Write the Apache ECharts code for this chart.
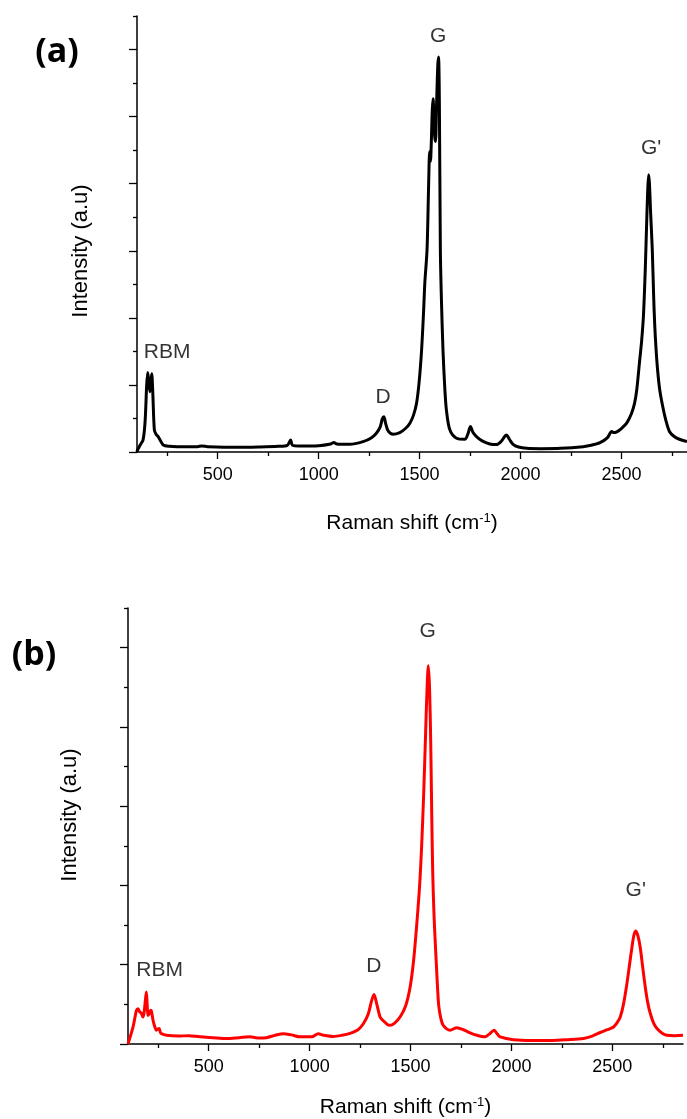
<!DOCTYPE html>
<html>
<head>
<meta charset="utf-8">
<script src="https://cdn.jsdelivr.net/npm/echarts@6/dist/echarts.min.js"></script>
<style>
html,body{margin:0;padding:0;background:#fff;}
#chart{width:687px;height:1119px;}
</style>
</head>
<body>
<div id="chart"></div>
<script>
// ---- Data (a): black spectrum ----
const topX = [100,103,115,130,140,148,153,158,164,168,173,178,186,195,205,215,230,260,300,400,420,450,600,700,800,845,861,870,900,1000,1060,1075,1090,1154,1220,1260,1286,1305,1315,1323,1332,1345,1369,1402,1430,1452,1470,1485,1498,1510,1520,1526,1537,1545,1550,1554,1558,1563,1567,1571,1575,1579,1584,1590,1594,1598,1603,1608,1616,1625,1633,1650,1683,1724,1740,1752,1765,1782,1810,1848,1881,1905,1930,1945,1963,1990,2030,2100,2200,2311,2350,2394,2430,2452,2462,2477,2500,2526,2550,2565,2576,2590,2600,2609,2618,2626,2631,2635,2639,2645,2653,2660,2665,2672,2680,2690,2705,2720,2738,2760,2787,2825];
const topY = [0.0,0.06,0.2,0.36,0.9,2.0,2.37,2.1,1.8,2.1,2.33,1.8,0.66,0.52,0.46,0.35,0.21,0.17,0.16,0.16,0.18,0.16,0.14,0.15,0.17,0.2,0.36,0.2,0.18,0.19,0.24,0.28,0.24,0.23,0.31,0.42,0.56,0.75,0.98,1.05,0.85,0.62,0.53,0.58,0.7,0.86,1.1,1.45,2.1,3.04,4.2,5.04,6.03,8.0,8.96,8.67,9.2,10.2,10.53,10.0,9.4,9.26,10.3,11.5,11.78,10.5,6.03,4.6,3.04,1.9,1.25,0.66,0.41,0.38,0.55,0.76,0.58,0.46,0.33,0.24,0.22,0.32,0.51,0.38,0.23,0.15,0.11,0.1,0.11,0.16,0.2,0.28,0.42,0.61,0.58,0.6,0.7,0.86,1.15,1.45,1.85,2.7,3.3,4.04,5.4,7.0,7.9,8.27,8.0,7.1,6.03,4.6,3.8,3.04,2.4,1.85,1.35,0.95,0.61,0.47,0.38,0.31];

// ---- Data (b): red spectrum ----
const botX = [100,125,142,150,158,166,174,180,186,191,195,199,207,212,216,224,232,241,248,254,260,266,290,350,400,456,520,588,650,704,750,786,830,869,910,952,1010,1043,1070,1117,1160,1200,1240,1266,1290,1305,1319,1333,1349,1362,1373,1385,1398,1420,1448,1475,1498,1515,1531,1545,1555,1565,1575,1582,1588,1594,1600,1605,1610,1616,1622,1628,1634,1640,1650,1662,1696,1729,1762,1795,1828,1869,1890,1914,1930,1944,2010,2100,2192,2280,2357,2400,2440,2475,2506,2525,2539,2555,2572,2585,2597,2607,2617,2628,2638,2650,2663,2675,2688,2705,2721,2745,2771,2810,2850];
const botY = [0.0,0.43,0.85,0.89,0.81,0.78,0.68,0.8,1.1,1.31,1.0,0.72,0.78,0.85,0.83,0.6,0.45,0.35,0.38,0.39,0.3,0.26,0.22,0.2,0.21,0.18,0.16,0.14,0.16,0.18,0.15,0.16,0.22,0.26,0.23,0.18,0.18,0.26,0.22,0.19,0.22,0.27,0.36,0.51,0.75,1.05,1.25,1.0,0.68,0.6,0.55,0.49,0.47,0.52,0.68,0.95,1.44,2.1,3.03,4.0,5.0,6.3,7.9,9.0,9.54,9.0,7.6,5.8,4.3,3.3,2.6,2.0,1.4,0.95,0.65,0.47,0.35,0.41,0.36,0.28,0.22,0.18,0.25,0.35,0.25,0.18,0.11,0.09,0.09,0.11,0.14,0.2,0.29,0.36,0.43,0.55,0.68,1.0,1.52,2.0,2.44,2.75,2.85,2.7,2.44,1.95,1.44,1.05,0.77,0.52,0.39,0.28,0.22,0.21,0.22];

// ---- Tick values ----
const xMajorTicks = [500,1000,1500,2000,2500];
const xMinorTicks = [250,750,1250,1750,2250,2750];
const topYMajor = [0,2,4,6,8,10,12];
const topYMinor = [1,3,5,7,9,11,13];
const botYMajor = [0,2,4,6,8,10];
const botYMinor = [1,3,5,7,9,11];

// ---- Peak annotations [label, x, y] ----
const topPeaks = [['RBM',249,2.99],['D',1319,1.64],['G',1592,12.39],["G'",2647,9.05]];
const botPeaks = [['RBM',257,1.86],['D',1318,1.96],['G',1585,10.42],["G'",2616,3.87]];

const FONT = '"Liberation Sans", Arial, sans-serif';
const zip = (xs, ys) => xs.map((x, i) => [x, ys[i]]);

function xAxes(gridIndex, max, gap) {
  const base = {
    type: 'value', gridIndex: gridIndex, min: 100, max: max,
    splitLine: {show: false}
  };
  return [
    Object.assign({}, base, {
      axisLine: {show: true, onZero: false, lineStyle: {color: '#000', width: 1.5}},
      axisTick: {show: true, length: 7, customValues: xMajorTicks, lineStyle: {color: '#000', width: 1.3}},
      axisLabel: {show: true, customValues: xMajorTicks, formatter: v => String(v), color: '#000', fontFamily: FONT, fontSize: 18, margin: 14},
      name: 'Raman shift (cm{sup|-1})',
      nameLocation: 'middle', nameGap: gap,
      nameTextStyle: {color: '#000', fontFamily: FONT, fontSize: 21,
        rich: {sup: {fontSize: 13, fontFamily: FONT, color: '#000', padding: [0, 0, 10, 0]}}}
    }),
    Object.assign({}, base, {
      position: 'bottom',
      axisLine: {show: false},
      axisTick: {show: true, length: 4, customValues: xMinorTicks, lineStyle: {color: '#000', width: 1.3}},
      axisLabel: {show: false}
    })
  ];
}
function yAxes(gridIndex, max, major, minor) {
  const base = {type: 'value', gridIndex: gridIndex, min: 0, max: max, splitLine: {show: false}, position: 'left'};
  return [
    Object.assign({}, base, {
      axisLine: {show: true, onZero: false, lineStyle: {color: '#000', width: 1.5}},
      axisTick: {show: true, length: 8, customValues: major, lineStyle: {color: '#000', width: 1.3}},
      axisLabel: {show: false}
    }),
    Object.assign({}, base, {
      axisLine: {show: false},
      axisTick: {show: true, length: 4, customValues: minor, lineStyle: {color: '#000', width: 1.3}},
      axisLabel: {show: false}
    })
  ];
}
function peakSeries(peaks, xi, yi) {
  return {
    type: 'scatter', xAxisIndex: xi, yAxisIndex: yi, symbolSize: 0, silent: true,
    data: peaks.map(p => ({name: p[0], value: [p[1], p[2]]})),
    label: {show: true, position: 'inside', formatter: '{b}', color: '#000', fontFamily: FONT, fontSize: 21}
  };
}

const chart = echarts.init(document.getElementById('chart'), null, {renderer: 'canvas'});
chart.setOption({
  animation: false,
  backgroundColor: '#fff',
  grid: [
    {left: 137, top: 16, width: 550, height: 436},
    {left: 128, top: 608, width: 555, height: 436}
  ],
  xAxis: [].concat(xAxes(0, 2825, 60), xAxes(1, 2850, 52)),
  yAxis: [].concat(yAxes(0, 13, topYMajor, topYMinor), yAxes(1, 11, botYMajor, botYMinor)),
  series: [
    {type: 'line', xAxisIndex: 0, yAxisIndex: 0, data: zip(topX, topY), showSymbol: false,
     smooth: 0.3, lineStyle: {color: '#000', width: 3}, clip: true},
    {type: 'line', xAxisIndex: 2, yAxisIndex: 2, data: zip(botX, botY), showSymbol: false,
     smooth: 0.3, lineStyle: {color: '#ff0000', width: 3}, clip: true},
    peakSeries(topPeaks, 0, 0),
    peakSeries(botPeaks, 2, 2)
  ],
  graphic: [
    {type: 'text', x: 57, y: 52, style: {text: '(a)', font: 'bold 34px "Open Sans", "Noto Sans", sans-serif', fill: '#000', align: 'center', verticalAlign: 'middle'}},
    {type: 'text', x: 34, y: 655, style: {text: '(b)', font: 'bold 34px "Open Sans", "Noto Sans", sans-serif', fill: '#000', align: 'center', verticalAlign: 'middle'}},
    {type: 'text', x: 81, y: 251, rotation: Math.PI / 2, style: {text: 'Intensity (a.u)', font: '22px "Liberation Sans", Arial, sans-serif', fill: '#000', align: 'center', verticalAlign: 'middle'}},
    {type: 'text', x: 70, y: 815, rotation: Math.PI / 2, style: {text: 'Intensity (a.u)', font: '22px "Liberation Sans", Arial, sans-serif', fill: '#000', align: 'center', verticalAlign: 'middle'}}
  ]
});
</script>
</body>
</html>
